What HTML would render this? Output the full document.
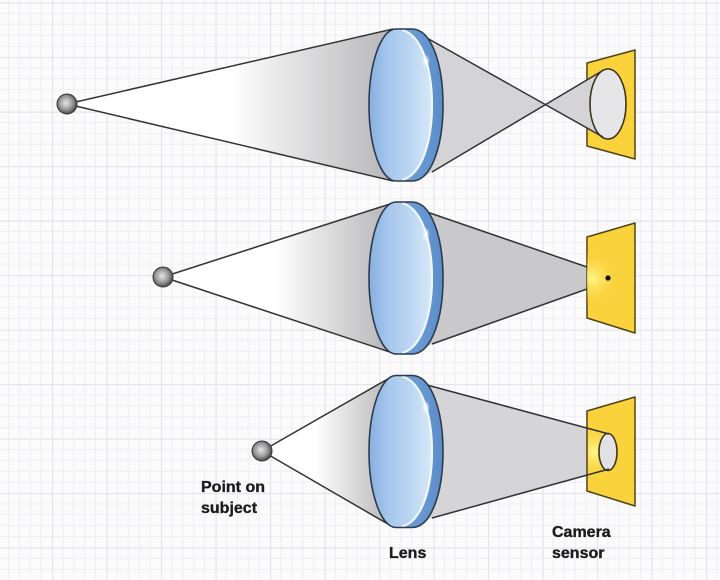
<!DOCTYPE html>
<html><head><meta charset="utf-8"><style>
html,body{margin:0;padding:0;background:#fbfbfd;}
svg{display:block;}
text{font-family:"Liberation Sans",sans-serif;font-weight:bold;font-size:16px;fill:#1c1c1c;stroke:#1c1c1c;stroke-width:0.35px;}
</style></head><body>
<svg width="720" height="580" viewBox="0 0 720 580" xmlns="http://www.w3.org/2000/svg">
<defs>
  <pattern id="grid" x="-2.5" y="2.5" width="54.5" height="54.5" patternUnits="userSpaceOnUse">
    <rect width="54.5" height="54.5" fill="#fbfbfc"/>
    <g stroke="#efeff3" stroke-width="1">
      <line x1="10.9" y1="0" x2="10.9" y2="54.5"/><line x1="21.8" y1="0" x2="21.8" y2="54.5"/>
      <line x1="32.7" y1="0" x2="32.7" y2="54.5"/><line x1="43.6" y1="0" x2="43.6" y2="54.5"/>
      <line y1="10.9" x1="0" y2="10.9" x2="54.5"/><line y1="21.8" x1="0" y2="21.8" x2="54.5"/>
      <line y1="32.7" x1="0" y2="32.7" x2="54.5"/><line y1="43.6" x1="0" y2="43.6" x2="54.5"/>
    </g>
    <g stroke="#e4e4ea" stroke-width="1.3">
      <line x1="0.5" y1="0" x2="0.5" y2="54.5"/><line y1="0.5" x1="0" y2="0.5" x2="54.5"/>
    </g>
  </pattern>
  <linearGradient id="cone1" gradientUnits="userSpaceOnUse" x1="230" y1="0" x2="385" y2="0">
    <stop offset="0" stop-color="#ffffff"/><stop offset="1" stop-color="#b9b9bb"/>
  </linearGradient>
  <linearGradient id="cone2" gradientUnits="userSpaceOnUse" x1="275" y1="0" x2="385" y2="0">
    <stop offset="0" stop-color="#ffffff"/><stop offset="1" stop-color="#b9b9bb"/>
  </linearGradient>
  <linearGradient id="cone3" gradientUnits="userSpaceOnUse" x1="315" y1="0" x2="385" y2="0">
    <stop offset="0" stop-color="#ffffff"/><stop offset="1" stop-color="#bcbcbe"/>
  </linearGradient>
  <linearGradient id="rim" x1="0" y1="0" x2="1" y2="0">
    <stop offset="0" stop-color="#7aa6da"/><stop offset="0.8" stop-color="#6595d0"/><stop offset="1" stop-color="#5a8cc8"/>
  </linearGradient>
  <linearGradient id="face" x1="0" y1="0" x2="1" y2="0">
    <stop offset="0" stop-color="#86afe0"/><stop offset="0.3" stop-color="#a6c7ec"/>
    <stop offset="0.65" stop-color="#bcd6f2"/><stop offset="1" stop-color="#dae9f8"/>
  </linearGradient>
  <radialGradient id="ball" cx="0.45" cy="0.45" r="0.6">
    <stop offset="0" stop-color="#e6e6e6"/><stop offset="0.55" stop-color="#999"/><stop offset="1" stop-color="#3a3a3a"/>
  </radialGradient>
  <radialGradient id="spec" cx="0.5" cy="0.5" r="0.5">
    <stop offset="0" stop-color="#fff" stop-opacity="1"/><stop offset="1" stop-color="#fff" stop-opacity="0"/>
  </radialGradient>
  <radialGradient id="glow2" gradientUnits="userSpaceOnUse" cx="592" cy="278" r="28">
    <stop offset="0" stop-color="#fff48a"/><stop offset="1" stop-color="#fad23c" stop-opacity="0"/>
  </radialGradient>
  <radialGradient id="glow3" gradientUnits="userSpaceOnUse" cx="594" cy="452" r="30">
    <stop offset="0" stop-color="#fff48a"/><stop offset="1" stop-color="#fad23c" stop-opacity="0"/>
  </radialGradient>
  <g id="lens">
    <path d="M396,-76 C381,-76 369,-42 369,0 C369,42 381,76 396,76 L412,76 C431,76 443,42 443,0 C443,-42 431,-76 412,-76 Z" fill="url(#rim)"/>
    <path d="M396,-76 C381,-76 369,-42 369,0 C369,42 381,76 396,76 L399,76 C420,76 433,42 433,0 C433,-42 420,-76 399,-76 Z" fill="url(#face)"/>
    <path d="M402,-75 C421,-70 432,-38 432,0 C432,38 421,70 402,75" fill="none" stroke="#f4f9ff" stroke-width="2" opacity="0.9"/>
    <ellipse cx="426" cy="-44" rx="4" ry="7" fill="url(#spec)"/>
    <path d="M396,-76 C381,-76 369,-42 369,0 C369,42 381,76 396,76 L412,76 C431,76 443,42 443,0 C443,-42 431,-76 412,-76 Z" fill="none" stroke="#2e3b4c" stroke-width="1.6"/>
  </g>
  <g id="pt">
    <circle cx="0" cy="0" r="10" fill="url(#ball)" stroke="#333" stroke-width="1"/>
  </g>
</defs>

<rect width="720" height="580" fill="url(#grid)"/>

<!-- ROW 1 -->
<polygon points="67,104 393,29 393,181" fill="url(#cone1)"/>
<polygon points="418,30 427,38 546,105 432,172 418,180" fill="#d4d4d6"/>
<polygon points="587,63 635,50 635,159 587,146" fill="#fad23c" stroke="#4e4418" stroke-width="1.5" stroke-linejoin="round"/>
<polygon points="546,105 602,71 603,137" fill="#d4d4d6"/>
<ellipse cx="608" cy="104" rx="18" ry="35" fill="#e6e6e9" stroke="#3e361c" stroke-width="1.6"/>
<g stroke="#333" stroke-width="1.5" fill="none">
  <line x1="67" y1="104" x2="393" y2="29"/>
  <line x1="67" y1="104" x2="393" y2="181"/>
  <line x1="427" y1="38" x2="603" y2="137"/>
  <line x1="432" y1="172" x2="602" y2="71"/>
</g>
<use href="#lens" transform="translate(0,105)"/>
<use href="#pt" transform="translate(67,104)"/>

<!-- ROW 2 -->
<polygon points="163,277 393,203 393,353" fill="url(#cone2)"/>
<polygon points="418,204 427,212 587,267 587,289 432,344 418,352" fill="#c9c9cb"/>
<polygon points="587,237 635,223 635,333 587,318" fill="#fad23c" stroke="#4e4418" stroke-width="1.5" stroke-linejoin="round"/>
<polygon points="587,240 634,226 634,330 587,315" fill="url(#glow2)"/>
<circle cx="608" cy="278" r="2.6" fill="#111"/>
<g stroke="#333" stroke-width="1.5" fill="none">
  <line x1="163" y1="277" x2="393" y2="203"/>
  <line x1="163" y1="277" x2="393" y2="353"/>
  <line x1="427" y1="212" x2="587" y2="267"/>
  <line x1="432" y1="344" x2="587" y2="289"/>
</g>
<use href="#lens" transform="translate(0,278)"/>
<use href="#pt" transform="translate(163,277)"/>

<!-- ROW 3 -->
<polygon points="262,451 393,376 393,527" fill="url(#cone3)"/>
<polygon points="418,377 427,385 587,428 587,476 432,518 418,525" fill="#d5d5d7"/>
<polygon points="587,411 635,397 635,506 587,491" fill="#fad23c" stroke="#4e4418" stroke-width="1.5" stroke-linejoin="round"/>
<polygon points="588,428 609,434 609,469 588,476" fill="url(#glow3)"/>
<ellipse cx="608" cy="452" rx="9" ry="18.5" fill="#e2e2e5" stroke="#3e361c" stroke-width="1.6"/>
<g stroke="#333" stroke-width="1.5" fill="none">
  <line x1="262" y1="451" x2="393" y2="376"/>
  <line x1="262" y1="451" x2="393" y2="527"/>
  <line x1="427" y1="385" x2="609" y2="434"/>
  <line x1="432" y1="518" x2="609" y2="469"/>
</g>
<use href="#lens" transform="translate(0,451.5)"/>
<use href="#pt" transform="translate(262,451)"/>

<!-- Labels -->
<text x="201" y="492">Point on</text>
<text x="201" y="513">subject</text>
<text x="389" y="558">Lens</text>
<text x="552" y="537">Camera</text>
<text x="552" y="558">sensor</text>
</svg>
</body></html>
